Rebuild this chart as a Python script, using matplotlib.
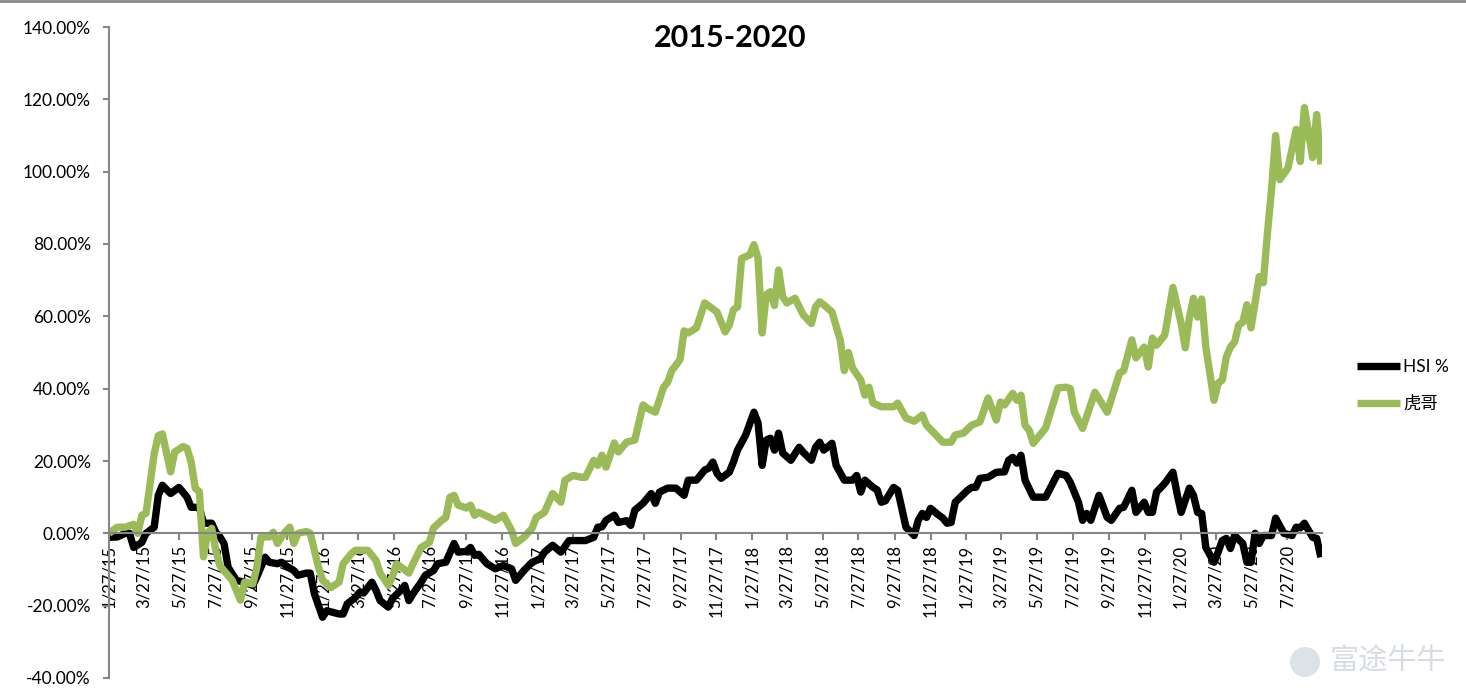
import matplotlib
matplotlib.use('Agg')
import matplotlib.pyplot as plt
import matplotlib.dates as mdates
from matplotlib.ticker import FuncFormatter, MultipleLocator
from matplotlib.lines import Line2D
from matplotlib.patches import Circle
import numpy as np
import pandas as pd

# fuentes: Lato para latin, Noto CJK para los caracteres chinos
plt.rcParams['font.family'] = ['Lato', 'Noto Sans CJK SC', 'DejaVu Sans']

titulo = '2015-2020'
nombres = ['HSI %', '虎哥']
fecha_inicio = '2015-01-27'

# semanas desde 1/27/15 y valores en %
hsi_semanas = [0, 2, 4, 5, 6, 8, 9, 11, 12, 13, 15, 17, 18, 19, 20, 22, 23, 25, 26, 27, 28, 29, 31, 33, 35, 36, 38, 39,
	41, 42, 43, 45, 46, 48, 49, 50, 52, 53, 56, 57, 58, 60, 61, 62, 64, 65, 66, 68, 69, 71, 72, 73, 74, 76, 77, 79, 80,
	82, 84, 85, 87, 88, 89, 90, 92, 94, 96, 98, 99, 101, 103, 105, 106, 108, 110, 112, 114, 116, 118, 119, 120, 121,
	123, 124, 126, 127, 128, 130, 132, 133, 134, 136, 138, 140, 141, 143, 145, 146, 147, 148, 149, 151, 152, 153, 155,
	157, 158, 159, 160, 161, 162, 163, 164, 166, 168, 169, 171, 172, 173, 174, 176, 177, 179, 181, 182, 183, 184, 186,
	187, 188, 189, 191, 192, 193, 194, 196, 197, 198, 199, 200, 202, 203, 204, 205, 206, 209, 210, 211, 212, 214, 216,
	218, 219, 220, 221, 222, 223, 225, 228, 231, 233, 234, 236, 237, 238, 239, 241, 243, 244, 246, 247, 249, 250, 252,
	253, 254, 255, 257, 259, 260, 261, 263, 264, 265, 266, 267, 269, 270, 271, 272, 273, 274, 276, 277, 278, 279, 280,
	281, 283, 284, 286, 288, 289, 290, 291, 293, 294, 295]
hsi_valores = [-1.1, -1.0, 0.0, 0.0, -3.9, -2.5, 0.0, 1.7, 10.5, 13.3, 11.0, 12.7, 11.4, 10.0, 7.2, 7.2, 2.8, 2.8, 0.3,
	-1.0, -2.8, -9.4, -13.0, -13.5, -14.4, -12.0, -6.6, -8.0, -8.4, -8.0, -8.9, -10.3, -11.6, -11.0, -11.0, -16.7,
	-23.2, -21.4, -22.3, -22.3, -19.5, -17.7, -16.3, -16.5, -13.5, -15.8, -18.6, -20.4, -18.0, -15.8, -14.4, -18.6,
	-16.7, -13.5, -11.6, -10.3, -8.4, -8.0, -2.8, -5.2, -5.0, -3.9, -6.1, -5.8, -8.4, -9.8, -8.9, -9.8, -13.0, -10.3,
	-8.0, -7.0, -5.2, -3.3, -5.2, -2.0, -2.0, -2.0, -1.1, 1.7, 1.8, 3.6, 5.0, 3.0, 3.5, 2.2, 6.4, 8.3, 11.0, 8.3, 11.4,
	12.5, 12.5, 10.5, 14.7, 14.7, 17.5, 18.0, 19.7, 16.6, 15.2, 16.9, 19.7, 23.0, 27.2, 33.5, 30.5, 18.8, 25.8, 26.3,
	23.0, 27.7, 22.2, 20.2, 23.8, 22.4, 20.2, 23.8, 25.2, 23.0, 24.9, 18.8, 14.7, 14.7, 16.0, 11.4, 14.7, 12.7, 12.0,
	8.6, 9.0, 12.7, 11.9, 6.9, 1.7, -0.6, 3.6, 5.5, 4.4, 6.9, 5.0, 4.2, 2.8, 3.0, 8.6, 11.9, 12.7, 12.7, 15.2, 15.5,
	16.9, 17.0, 20.2, 21.0, 19.4, 21.6, 14.7, 10.0, 10.0, 16.6, 16.0, 14.1, 8.6, 3.6, 5.5, 3.6, 10.5, 4.4, 3.6, 6.9,
	7.2, 11.9, 5.8, 8.6, 5.8, 5.8, 11.4, 13.8, 16.9, 11.0, 5.8, 12.5, 10.5, 5.8, 5.5, -3.9, -8.0, -5.2, -2.0, -1.4,
	-4.2, -0.6, -2.8, -8.0, -8.0, 0.0, -2.8, -0.6, -0.6, 4.2, 0.0, -0.6, 1.7, 1.5, 2.8, -1.1, -1.4, -6.6]

hu_semanas = [0, 2, 4, 6, 7, 8, 9, 11, 12, 13, 15, 16, 18, 19, 20, 21, 22, 23, 24, 25, 26, 27, 30, 32, 33, 35, 36, 37,
	39, 40, 41, 42, 43, 44, 45, 46, 48, 49, 51, 52, 54, 56, 57, 59, 60, 63, 65, 66, 68, 69, 70, 73, 74, 76, 78, 79, 81,
	82, 83, 84, 85, 87, 88, 89, 90, 93, 94, 96, 98, 99, 101, 103, 104, 106, 108, 110, 111, 113, 115, 116, 118, 119,
	120, 121, 123, 124, 126, 128, 130, 131, 133, 135, 136, 137, 139, 140, 141, 143, 145, 148, 150, 151, 152, 153, 154,
	156, 157, 158, 159, 160, 161, 162, 163, 164, 165, 167, 169, 171, 172, 173, 174, 176, 178, 179, 180, 181, 183, 184,
	185, 186, 188, 191, 192, 194, 196, 198, 199, 203, 205, 206, 208, 210, 212, 214, 216, 217, 218, 220, 221, 222, 223,
	224, 225, 228, 231, 233, 234, 235, 237, 240, 243, 246, 247, 249, 250, 252, 253, 254, 255, 257, 259, 261, 262, 263,
	264, 265, 266, 267, 269, 270, 271, 272, 273, 274, 275, 276, 277, 278, 280, 281, 282, 283, 284, 285, 287, 289, 290,
	291, 293, 294, 295]
hu_valores = [0.0, 1.7, 1.7, 2.5, 0.0, 5.0, 5.5, 22.0, 27.0, 27.5, 17.0, 22.5, 24.0, 23.5, 19.7, 12.5, 11.5, -6.5, 0.0,
	1.4, -4.7, -9.0, -13.0, -18.5, -13.5, -14.0, -9.4, -1.0, -1.0, 0.3, -2.8, -1.0, 0.5, 1.7, -2.8, 0.0, 0.5, 0.0, -9.4,
	-13.0, -15.0, -13.5, -8.4, -5.6, -4.7, -4.7, -7.5, -11.0, -14.4, -12.0, -8.4, -11.0, -8.4, -3.9, -2.5, 1.5, 3.6, 4.4,
	10.0, 10.5, 7.8, 7.0, 7.8, 5.0, 5.8, 4.2, 3.6, 5.0, 0.8, -2.8, -1.1, 1.4, 4.4, 5.8, 11.0, 8.6, 14.7, 16.0, 15.5,
	15.5, 20.2, 18.8, 21.6, 18.3, 25.0, 22.5, 25.2, 25.8, 35.5, 34.6, 33.5, 40.4, 41.8, 45.0, 48.0, 56.0, 55.4, 56.8,
	63.7, 61.2, 55.7, 57.6, 61.8, 62.6, 76.0, 77.0, 79.8, 76.0, 55.4, 66.0, 66.8, 63.0, 72.8, 65.4, 63.7, 65.0, 60.4,
	58.0, 62.6, 64.0, 63.2, 61.2, 53.5, 45.0, 50.0, 45.7, 42.4, 38.2, 40.4, 36.0, 35.0, 35.0, 36.0, 31.9, 31.0, 32.7,
	29.9, 25.2, 25.2, 27.2, 27.7, 29.9, 30.8, 37.4, 31.3, 36.3, 35.5, 38.7, 36.8, 38.2, 29.9, 28.5, 24.9, 29.1, 40.2,
	40.4, 40.0, 33.5, 29.0, 39.0, 33.5, 44.3, 45.0, 53.5, 48.5, 51.5, 46.0, 54.0, 52.0, 54.8, 68.0, 58.0, 51.3, 59.6,
	65.0, 59.8, 64.8, 51.5, 36.8, 41.5, 42.4, 48.8, 51.5, 52.9, 57.6, 58.4, 63.2, 56.8, 71.0, 69.3, 83.0, 95.0, 110.0,
	97.8, 101.0, 111.7, 102.8, 117.7, 103.9, 115.8, 102.0]

gris = '#868686'
verde = '#9bbb59'


def semanas_a_fechas(semanas):
	'''Convierte numero de semana a fecha real'''
	return pd.Timestamp(fecha_inicio) + pd.to_timedelta(np.array(semanas) * 7, unit='D')


def etiqueta_fecha(v, pos):
	d = mdates.num2date(v)
	return f"{d.month}/{d.day}/{d.strftime('%y')}"


fig = plt.figure(figsize=(14.66, 6.98), dpi=100)
ax = fig.add_axes([109 / 1466, 20 / 698, (1322 - 109) / 1466, (678 - 27) / 698])

fechas_hsi = semanas_a_fechas(hsi_semanas)
fechas_hu = semanas_a_fechas(hu_semanas)

ax.plot(fechas_hsi, hsi_valores, color='black', lw=5.3, solid_joinstyle='round', solid_capstyle='butt', label=nombres[0])
ax.plot(fechas_hu, hu_valores, color=verde, lw=5.3, solid_joinstyle='round', solid_capstyle='butt', label=nombres[1])

ax.set_xlim(fechas_hsi[0], fechas_hsi[-1] + pd.Timedelta(days=2))
ax.set_ylim(-40, 140)

# eje y
ax.yaxis.set_major_locator(MultipleLocator(20))
ax.yaxis.set_major_formatter(FuncFormatter(lambda v, p: f'{v:.2f}%'))
ax.tick_params(axis='y', direction='out', length=4, width=1.5, color=gris, labelsize=12.5, pad=9, labelcolor='black')

# eje x sobre el cero
ax.xaxis.set_major_locator(mdates.MonthLocator(bymonth=[1, 3, 5, 7, 9, 11], bymonthday=27))
ax.xaxis.set_major_formatter(FuncFormatter(etiqueta_fecha))
ax.tick_params(axis='x', direction='out', length=5, width=1.5, color=gris, labelsize=12, pad=3,
	labelrotation=90, labelcolor='black')

ax.spines['top'].set_visible(False)
ax.spines['right'].set_visible(False)
ax.spines['left'].set_color(gris)
ax.spines['left'].set_linewidth(1.5)
ax.spines['bottom'].set_color(gris)
ax.spines['bottom'].set_linewidth(1.5)
ax.spines['bottom'].set_position(('data', 0))

fig.text(730 / 1466, 1 - 38 / 698, titulo, ha='center', va='center', fontsize=22, fontweight='bold')

ax.legend(loc='center left', bbox_to_anchor=(1357 / 1466, 1 - 385.5 / 698), bbox_transform=fig.transFigure,
	frameon=False, fontsize=12.5, handlelength=2.5, handletextpad=0.15, labelspacing=1.2, borderpad=0,
	borderaxespad=0)

# marca de agua (en pulgadas para que el circulo sea redondo) y borde superior
fig.add_artist(Circle((13.05, 0.36), 0.15, transform=fig.dpi_scale_trans, facecolor='#dde2e7', edgecolor='none'))
fig.text(1330 / 1466, 1 - 662 / 698, '富途牛牛', color='#d6dce2', fontsize=21, ha='left', va='center',
	family=['Noto Sans CJK SC'])
fig.add_artist(Line2D([0, 1], [0.999, 0.999], transform=fig.transFigure, color='#8a8a8a', lw=2))

fig.savefig('out.png', dpi=100)
